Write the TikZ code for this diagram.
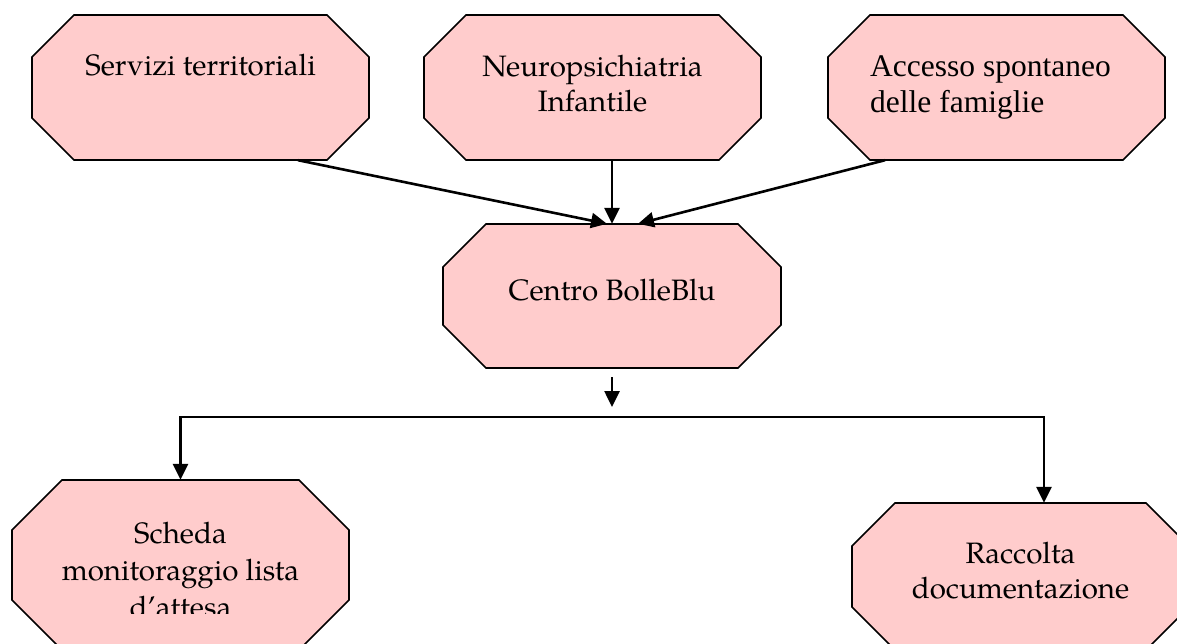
\documentclass[tikz,border=0pt]{standalone}
\usepackage{fontspec}
\setmainfont{TeX Gyre Pagella}
\newfontfamily\timesf{Liberation Serif}
\usetikzlibrary{arrows.meta}
\definecolor{boxpink}{RGB}{255,204,204}
\tikzset{
  octo/.style={fill=boxpink, draw=black, line width=1.7pt, line join=miter},
  lbl/.style={font=\fontsize{29.5}{36}\selectfont, inner sep=0pt, anchor=base},
  tlbl/.style={font=\timesf\fontsize{31.5}{36}\selectfont, inner sep=0pt, anchor=base west},
  arr/.style={line width=2.6pt, -{Triangle[length=16pt,width=15pt]}},
  link/.style={line width=2.6pt}
}
% name, cx, cy, w, h, chamfer
\newcommand\octbox[6]{%
  \node[inner sep=0pt, minimum width=#4pt, minimum height=#5pt] (#1) at (#2,#3) {};
  \draw[octo] ({#2-#4/2+#6},{#3-#5/2}) -- ({#2+#4/2-#6},{#3-#5/2}) -- ({#2+#4/2},{#3-#5/2+#6})
    -- ({#2+#4/2},{#3+#5/2-#6}) -- ({#2+#4/2-#6},{#3+#5/2}) -- ({#2-#4/2+#6},{#3+#5/2})
    -- ({#2-#4/2},{#3+#5/2-#6}) -- ({#2-#4/2},{#3-#5/2+#6}) -- cycle;
}
\begin{document}
\begin{tikzpicture}[x=1pt,y=-1pt]
\path[use as bounding box, clip] (0,0) rectangle (1177,644);
\fill[white] (0,0) rectangle (1177,644);

\octbox{serv}{200.5}{87.5}{337}{145}{42}
\octbox{neuro}{592.5}{87.5}{337}{145}{42}
\octbox{acc}{996.5}{87.5}{337}{145}{42}
\octbox{centro}{612}{296}{338}{144}{43}
\octbox{scheda}{180.5}{565}{337}{170}{50}
\octbox{racc}{1020.5}{576.5}{337}{147}{43}

% texts
\node[lbl] (tserv) at (200.5,76) {Servizi territoriali};
\node[lbl] (tneuroa) at (592.5,77) {Neuropsichiatria};
\node[lbl] (tneurob) at (592.5,112) {Infantile};
\node[tlbl] (tacca) at (870,77) {Accesso spontaneo};
\node[tlbl] (taccb) at (870,113) {delle famiglie};
\node[lbl] (tcentro) at (612,300) {Centro BolleBlu};
\node[lbl] (tschedaa) at (180.5,543) {Scheda};
\node[lbl] (tschedab) at (180.5,580) {monitoraggio lista};
\begin{scope}
  \clip (0,0) rectangle (1177,613);
  \node[lbl] (tschedac) at (180.5,617) {d’attesa};
\end{scope}
\node[lbl] (tracca) at (1020.5,563) {Raccolta};
\node[lbl] (traccb) at (1020.5,598) {documentazione};

% connectors
\draw[arr] ([xshift=97.5pt]serv.south) -- ([xshift=-5pt]centro.north);
\draw[arr] (centro.north |- neuro.south) -- (centro.north);
\draw[arr] ([xshift=-111.5pt]acc.south) -- ([xshift=26pt]centro.north);

\coordinate (d1) at (612,377);
\coordinate (d2) at (612,407);
\draw[arr] (d1) -- (d2);

\coordinate (bus) at (612,417);
\coordinate (rin) at ([xshift=23.5pt]racc.north);
\draw[arr] (bus) -| (scheda.north);
\draw[arr] (bus) -| (rin);
\end{tikzpicture}
\end{document}
